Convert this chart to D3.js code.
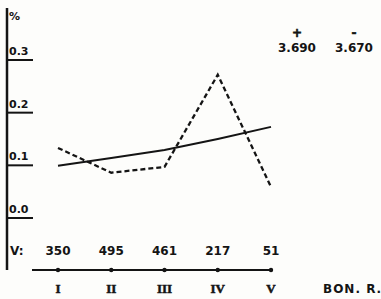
<!DOCTYPE html>
<html><head><meta charset="utf-8">
<script src="https://cdn.jsdelivr.net/npm/d3@7"></script>
<style>
html,body{margin:0;padding:0;background:#fdfdfb;}
text{font-family:"DejaVu Sans",sans-serif;font-weight:bold;fill:#141414;}
</style></head>
<body>
<svg id="c" width="381" height="299"></svg>
<script>
const categories = ["I","II","III","IV","V"];
const counts = ["350","495","461","217","51"];
const solidSeries = [0.099, 0.114, 0.129, 0.150, 0.173];
const dashedSeries = [0.133, 0.086, 0.097, 0.272, 0.059];
const yTicks = [0.0, 0.1, 0.2, 0.3];
const yTickLabels = ["0.0","0.1","0.2","0.3"];
const legendSymbols = ["+","-"];
const legendValues = ["3.690","3.670"];

const svg = d3.select("#c");
const ink = "#141414";
const x = d3.scalePoint().domain(categories).range([58, 271]);
const y = d3.scaleLinear().domain([0, 0.3]).range([218, 60]);

// y axis
svg.append("line").attr("x1",7).attr("x2",7).attr("y1",8).attr("y2",270)
  .attr("stroke",ink).attr("stroke-width",2.5);
svg.append("text").attr("x",9).attr("y",20).attr("font-size",11).text("%");
yTicks.forEach((t,i)=>{
  svg.append("line").attr("x1",7).attr("x2",33).attr("y1",y(t)).attr("y2",y(t))
    .attr("stroke",ink).attr("stroke-width",2);
  svg.append("text").attr("x",9).attr("y",y(t)-5).attr("font-size",11).text(yTickLabels[i]);
});

// lines
const line = d3.line().x((d,i)=>x(categories[i])).y(d=>y(d));
svg.append("path").datum(solidSeries).attr("d",line).attr("fill","none")
  .attr("stroke",ink).attr("stroke-width",2);
svg.append("path").datum(dashedSeries).attr("d",line).attr("fill","none")
  .attr("stroke",ink).attr("stroke-width",2.3).attr("stroke-dasharray","5,3");

// counts row
svg.append("text").attr("x",10).attr("y",255).attr("font-size",12).text("V:");
categories.forEach((c,i)=>{
  svg.append("text").attr("x",x(c)).attr("y",255).attr("text-anchor","middle")
    .attr("font-size",12).text(counts[i]);
});

// x axis
svg.append("line").attr("x1",32).attr("x2",273).attr("y1",270).attr("y2",270)
  .attr("stroke",ink).attr("stroke-width",2);
categories.forEach(c=>{
  svg.append("circle").attr("cx",x(c)).attr("cy",270).attr("r",2.2).attr("fill",ink);
  svg.append("text").attr("x",x(c)).attr("y",293).attr("text-anchor","middle")
    .attr("font-size",13).style("font-family","'Liberation Serif',serif")
    .attr("stroke",ink).attr("stroke-width",0.5).text(c);
});
svg.append("text").attr("x",323).attr("y",293).attr("font-size",12)
  .attr("letter-spacing",1).text("BON. R.");

// legend
const lx = [297, 354];
legendSymbols.forEach((s,i)=>{
  svg.append("text").attr("x",lx[i]).attr("y",37).attr("text-anchor","middle")
    .attr("font-size",12).attr("stroke",ink).attr("stroke-width",0.6).text(s);
  svg.append("text").attr("x",lx[i]).attr("y",52).attr("text-anchor","middle")
    .attr("font-size",12).text(legendValues[i]);
});
</script>
</body></html>
